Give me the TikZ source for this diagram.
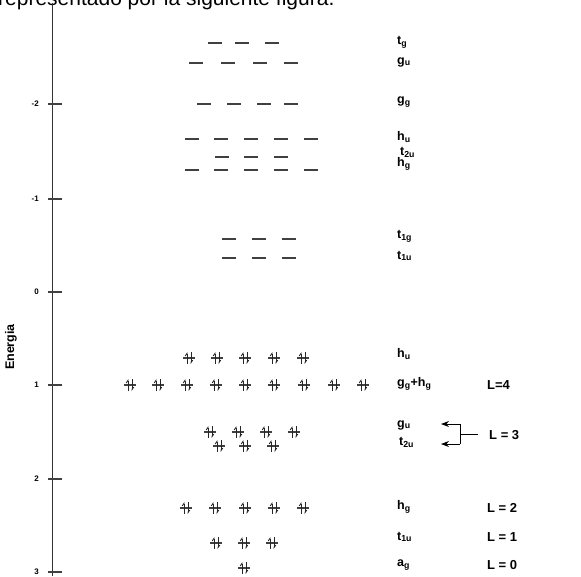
\documentclass[tikz,border=0pt]{standalone}
\usepackage{fontspec}
\setmainfont{Liberation Sans}
\usetikzlibrary{arrows.meta}
\newcommand{\lsub}[1]{\textsubscript{#1}}

\begin{document}
\begin{tikzpicture}[
  x=1pt, y=-1pt,
  lvl/.style={line width=1.2pt, black!75},
  spin/.style={line width=0.9pt, black!85, -{Straight Barb[harpoon,length=2.5pt,width=3.5pt]}},
  lab/.style={font=\bfseries\fontsize{12.5}{12.5}\selectfont, anchor=west, inner sep=0pt},
  ell/.style={font=\bfseries\fontsize{13}{13}\selectfont, anchor=west, inner sep=0pt},
  tick/.style={font=\bfseries\fontsize{8}{8}\selectfont, anchor=east, inner sep=0pt},
  arr/.style={-{Stealth[length=8pt,width=6pt]}, line width=0.9pt},
  pair/.pic={\draw[lvl] (-6,0) -- (6,0);
             \draw[spin] (-2,6) -- (-2,-6);
             \draw[spin] (2,-6) -- (2,6);}
]
\useasboundingbox (0,0) rectangle (581,576);
\clip (0,0) rectangle (581,576);

% text line of the page above the figure
\node[anchor=base west, inner sep=0pt, font=\fontsize{21}{21}\selectfont] (txt) at (-2,5)
  {representado por la siguiente figura.};

% energy axis
\coordinate (atop) at (52,3);
\coordinate (abot) at (52,576);
\draw[line width=0.8pt, black!80] (atop) -- (abot);
\foreach \v/\y in {-2/104,-1/199,0/292,1/385,2/479,3/572} {
  \draw[lvl] (48,\y) -- (62,\y);
  \node[tick] at (39,\y) {\v};
}
\node[rotate=90, font=\bfseries\fontsize{12.5}{12.5}\selectfont] (en) at (11,347) {Energia};

% empty levels
\foreach \y/\xs in {43/{215,242,272}, 63/{196,228,260,291}, 104/{204,234,264,291},
                    139/{192,221,251,281,311}, 157/{222,251,281}, 170/{192,221,251,281,311},
                    239/{229,259,289}, 258/{229,259,289}} {
  \foreach \x in \xs
    \draw[lvl] (\x-7,\y) -- (\x+7,\y);
}

% filled levels
\foreach \y/\xs in {358/{189,217,245,274,303}, 385/{130,158,187,216,245,274,304,334,363},
                    432/{210,238,266,294}, 446/{219,245,273}, 508/{186,215,245,274,303},
                    543/{216,244,272}, 568/{244}} {
  \foreach \x in \xs
    \pic at (\x,\y) {pair};
}

% level labels
\node[lab] (tg)   at (397,42)  {t\lsub{g}};
\node[lab] (gu)   at (397,62)  {g\lsub{u}};
\node[lab] (gg)   at (397,102) {g\lsub{g}};
\node[lab] (hu)   at (397,137) {h\lsub{u}};
\node[lab] (ttu)  at (400,152) {t\lsub{2u}};
\node[lab] (hg)   at (397,164) {h\lsub{g}};
\node[lab] (tog)  at (397,236) {t\lsub{1g}};
\node[lab] (tou)  at (397,256) {t\lsub{1u}};
\node[lab] (hu2)  at (397,354) {h\lsub{u}};
\node[lab] (ghg)  at (397,384) {g\lsub{g}+h\lsub{g}};
\node[lab] (gu2)  at (397,425) {g\lsub{u}};
\node[lab] (ttu2) at (399,442) {t\lsub{2u}};
\node[lab] (hg2)  at (397,507) {h\lsub{g}};
\node[lab] (tou2) at (397,537) {t\lsub{1u}};
\node[lab] (ag)   at (397,565) {a\lsub{g}};

% angular momentum
\node[ell] (L4) at (487,385) {L=4};
\node[ell] (L3) at (489,435) {L = 3};
\node[ell] (L2) at (487,508) {L = 2};
\node[ell] (L1) at (487,537) {L = 1};
\node[ell] (L0) at (487,565) {L = 0};

\coordinate (bu) at (460,424);
\coordinate (bl) at (460,444);
\coordinate (bm) at (460,434);
\coordinate (bs) at (478,434);
\coordinate (tipu) at (441,424);
\coordinate (tipl) at (441,444);
\draw[arr] (bu) -- (tipu);
\draw[arr] (bl) -- (tipl);
\draw[line width=0.8pt] (bu) -- (bl);
\draw[line width=0.8pt] (bm) -- (bs);
\end{tikzpicture}
\end{document}
